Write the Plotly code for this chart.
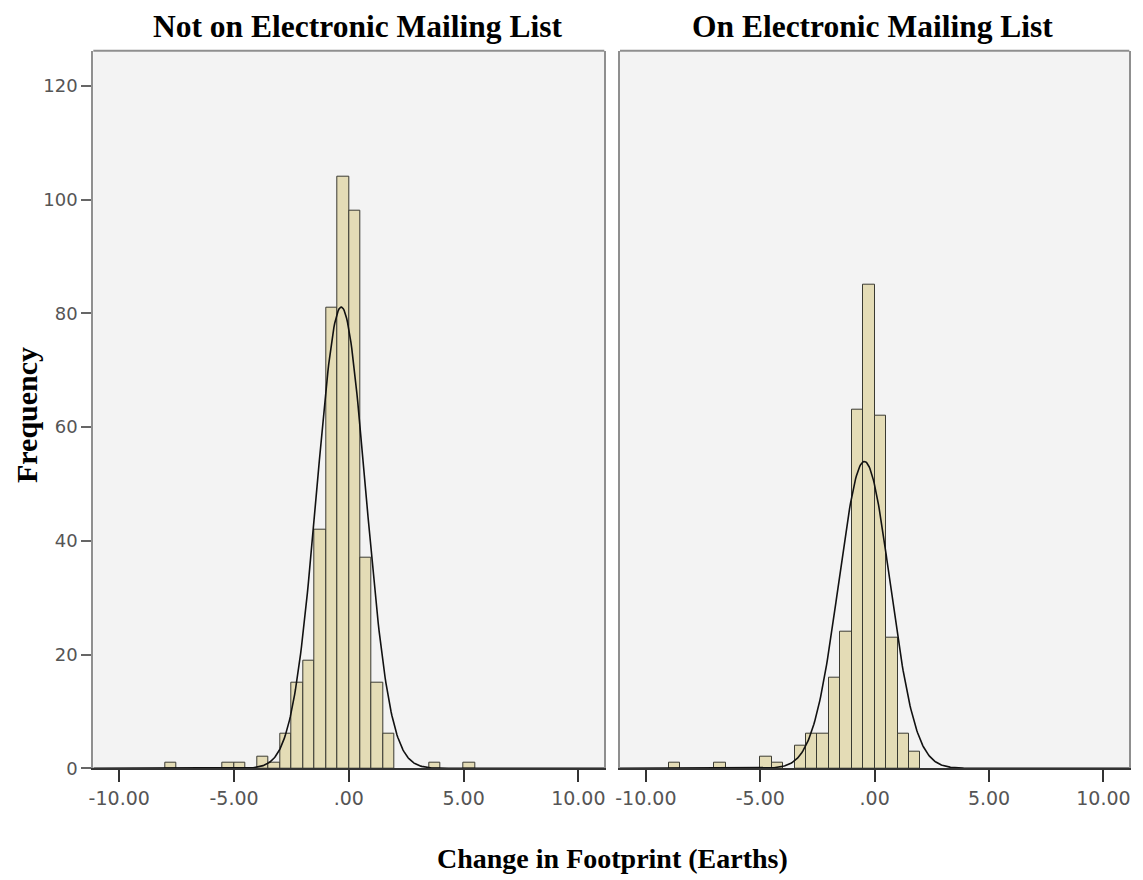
import numpy as np
import plotly.graph_objects as go

# ---------------- data ----------------
bin_width = 0.5

panel_titles = ["Not on Electronic Mailing List", "On Electronic Mailing List"]

left_bin_starts = [-8.0, -5.5, -5.0, -4.0, -3.5, -3.0, -2.5, -2.0, -1.5, -1.0, -0.5, 0.0, 0.5, 1.0, 1.5, 3.5, 5.0]
left_counts     = [1,    1,    1,    2,    1,    6,    15,   19,   42,   81,   104,  98,  37,  15,  6,   1,   1]

right_bin_starts = [-9.0, -7.0, -5.0, -4.5, -3.5, -3.0, -2.5, -2.0, -1.5, -1.0, -0.5, 0.0, 0.5, 1.0, 1.5]
right_counts     = [1,    1,    2,    1,    4,    6,    6,    16,   24,   63,   85,   62,  23,  6,   3]

# fitted normal curve parameters (mean, sd)
left_mean, left_sd = -0.33, 1.06
right_mean, right_sd = -0.45, 1.12

x_tickvals = [-10, -5, 0, 5, 10]
x_ticktext = ["-10.00", "-5.00", ".00", "5.00", "10.00"]
y_tickvals = [0, 20, 40, 60, 80, 100, 120]
y_ticktext = ["0", "20", "40", "60", "80", "100", "120"]

x_title = "Change in Footprint (Earths)"
y_title = "Frequency"

# ---------------- styling ----------------
W, H = 1143, 880
bar_fill = "#e4dcb6"
bar_edge = "#3a3a32"
plot_bg = "#f3f3f3"
frame_col = "#8f8f8f"
tick_col = "#555555"
serif = "Liberation Serif, Times New Roman, serif"
sans = "DejaVu Sans, Verdana, sans-serif"

x_range = [-11.13, 11.13]
y_range = [0, 126.2]

dom_left = [93.3 / W, 604.3 / W]
dom_right = [620.0 / W, 1129.3 / W]
dom_y = [(H - 768.3) / H, (H - 50.7) / H]
title_x_px = [357, 872]

fig = go.Figure()

def normal_curve(mean, sd, n):
    xs = np.linspace(x_range[0], x_range[1], 600)
    ys = n * bin_width / (sd * np.sqrt(2 * np.pi)) * np.exp(-0.5 * ((xs - mean) / sd) ** 2)
    return xs, ys

panels = [
    (left_bin_starts, left_counts, left_mean, left_sd, "x", "y"),
    (right_bin_starts, right_counts, right_mean, right_sd, "x2", "y2"),
]
for starts, counts, mu, sd, xa, ya in panels:
    centers = [s + bin_width / 2 for s in starts]
    fig.add_trace(go.Bar(
        x=centers, y=counts, width=bin_width,
        marker=dict(color=bar_fill, line=dict(color=bar_edge, width=1)),
        xaxis=xa, yaxis=ya, showlegend=False, hoverinfo="x+y",
    ))
    xs, ys = normal_curve(mu, sd, sum(counts))
    fig.add_trace(go.Scatter(
        x=xs, y=ys, mode="lines", line=dict(color="#111111", width=1.6),
        xaxis=xa, yaxis=ya, showlegend=False, hoverinfo="skip",
    ))

xaxis_common = dict(
    range=x_range, tickmode="array", tickvals=x_tickvals, ticktext=x_ticktext,
    showgrid=False, zeroline=False, showline=True, linecolor="#333333", linewidth=2,
    ticks="outside", ticklen=12, tickwidth=2, tickcolor="#333333",
    tickfont=dict(family=sans, size=19, color=tick_col),
)
fig.update_layout(
    width=W, height=H,
    paper_bgcolor="white", plot_bgcolor=plot_bg,
    margin=dict(l=0, r=0, t=0, b=0, autoexpand=False),
    bargap=0,
    xaxis=dict(domain=dom_left, anchor="y", **xaxis_common),
    xaxis2=dict(domain=dom_right, anchor="y2", **xaxis_common),
    yaxis=dict(
        domain=dom_y, anchor="x", range=y_range,
        tickmode="array", tickvals=y_tickvals, ticktext=y_ticktext,
        showgrid=False, zeroline=False, showline=True, mirror=True,
        linecolor=frame_col, linewidth=2,
        ticks="outside", ticklen=10, tickwidth=2, tickcolor="#666666",
        tickfont=dict(family=sans, size=18, color=tick_col),
    ),
    yaxis2=dict(
        domain=dom_y, anchor="x2", range=y_range,
        showticklabels=False, ticks="",
        showgrid=False, zeroline=False, showline=True, mirror=True,
        linecolor=frame_col, linewidth=2,
    ),
)

# top frame lines
for xr, yr in [("x domain", "y domain"), ("x2 domain", "y2 domain")]:
    fig.add_shape(type="line", xref=xr, yref=yr, x0=0, x1=1, y0=1, y1=1,
                  line=dict(color=frame_col, width=2))

# panel titles
for title, tx in zip(panel_titles, title_x_px):
    fig.add_annotation(text="<b>%s</b>" % title, xref="paper", yref="paper",
                       x=tx / W, y=(H - 27) / H, showarrow=False,
                       font=dict(family=serif, size=31.5, color="black"),
                       xanchor="center", yanchor="middle")

fig.add_annotation(text="<b>%s</b>" % x_title, xref="paper", yref="paper",
                   x=612 / W, y=(H - 858) / H, showarrow=False,
                   font=dict(family=serif, size=28, color="black"),
                   xanchor="center", yanchor="middle")
fig.add_annotation(text="<b>%s</b>" % y_title, xref="paper", yref="paper",
                   x=26 / W, y=(H - 415) / H, showarrow=False, textangle=-90,
                   font=dict(family=serif, size=30, color="black"),
                   xanchor="center", yanchor="middle")

fig.write_html("out.html", config={"displayModeBar": False},
               post_script="document.body.style.margin='0';document.body.style.overflow='hidden';")
